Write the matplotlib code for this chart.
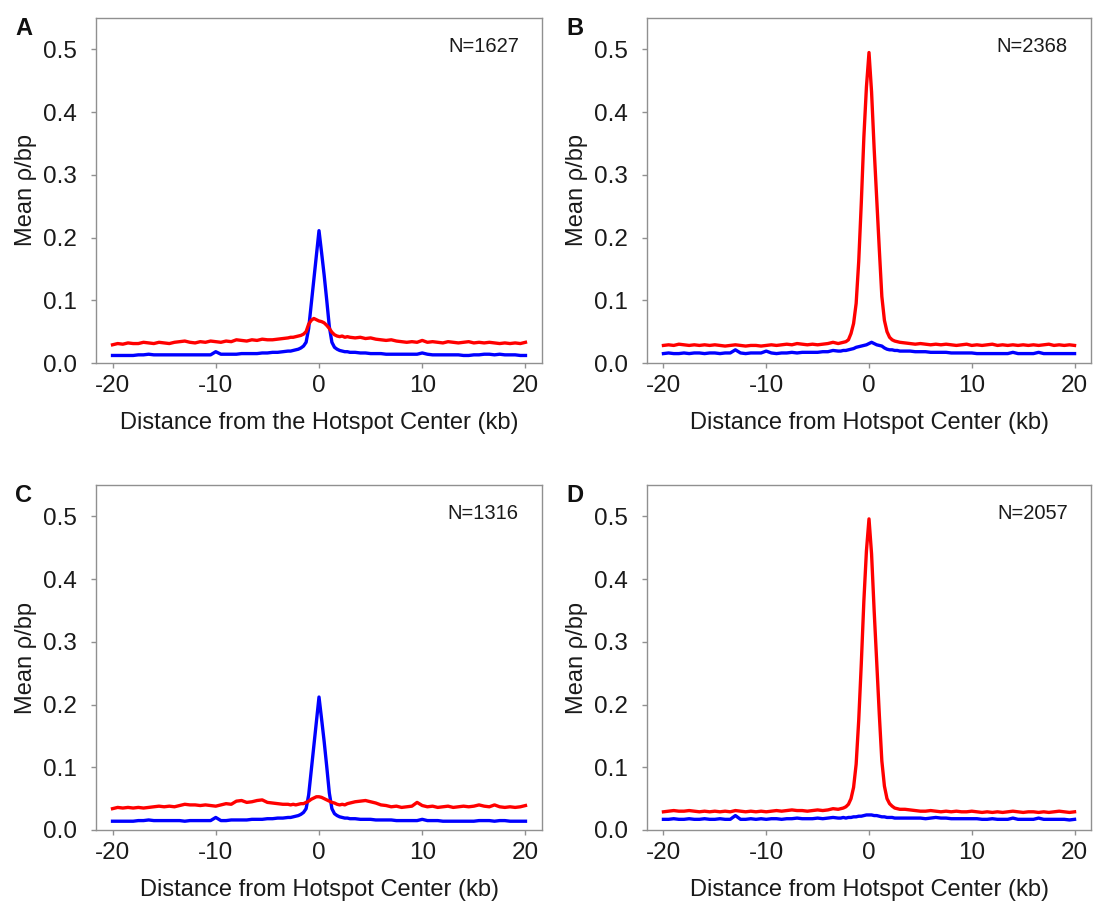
import numpy as np
import matplotlib
matplotlib.use("Agg")
import matplotlib.pyplot as plt

plt.rcParams['font.family'] = ['Liberation Sans', 'DejaVu Sans']
plt.rcParams['axes.unicode_minus'] = False

# distance from hotspot center (kb): 0.5 kb steps in the tails, 0.25 kb around the center
x_kb = np.concatenate([np.arange(-20, -3, 0.5), np.arange(-3, 3.01, 0.25), np.arange(3.5, 20.01, 0.5)])

# mean rho/bp, in units of 0.001
red_a = [29, 31, 30, 32, 31, 31, 33, 32, 31, 33, 32, 31, 33, 34, 35, 33, 32, 34, 33, 35, 34, 33, 35, 34, 37, 36, 35, 37, 36, 38, 37, 37, 38, 39,
         40, 41, 41, 42, 43, 44, 46, 50, 62, 68, 71, 69, 67, 66, 64, 60, 55, 49, 45, 43, 42, 43, 41, 42, 41,
         40, 41, 39, 40, 38, 37, 36, 37, 35, 34, 33, 34, 33, 36, 33, 34, 33, 32, 34, 33, 32, 33, 34, 32, 33, 32, 33, 32, 31, 32, 31, 32, 31, 33]
blue_a = [12, 12, 12, 12, 12, 13, 13, 14, 13, 13, 13, 13, 13, 13, 13, 13, 13, 13, 13, 13, 18, 14, 14, 14, 14, 15, 15, 15, 15, 16, 16, 17, 17, 18,
          19, 19, 20, 21, 22, 24, 27, 33, 55, 94, 133, 172, 211, 176, 140, 100, 58, 33, 25, 22, 20, 19, 18, 18, 17,
          17, 16, 16, 15, 15, 15, 14, 14, 14, 14, 14, 14, 14, 16, 14, 13, 13, 13, 13, 13, 13, 12, 12, 13, 13, 14, 14, 13, 14, 13, 13, 13, 12, 12]

red_b = [28, 29, 28, 30, 29, 28, 29, 28, 29, 28, 29, 28, 27, 28, 29, 28, 27, 28, 28, 27, 28, 29, 28, 29, 30, 29, 31, 30, 29, 30, 29, 30, 31, 33,
         31, 32, 33, 34, 37, 47, 63, 95, 162, 255, 360, 440, 495, 432, 342, 262, 182, 106, 68, 50, 41, 37, 35, 34, 33,
         32, 31, 30, 31, 30, 29, 30, 29, 30, 29, 28, 29, 30, 28, 29, 28, 29, 30, 28, 29, 28, 29, 28, 29, 28, 29, 28, 29, 30, 28, 29, 28, 29, 28]
blue_b = [15, 16, 15, 15, 16, 15, 16, 16, 15, 16, 16, 15, 16, 16, 21, 16, 15, 16, 16, 16, 19, 16, 15, 16, 16, 17, 16, 17, 17, 17, 17, 18, 18, 20,
          19, 19, 20, 20, 21, 22, 23, 25, 26, 27, 28, 29, 31, 33, 31, 29, 28, 27, 24, 22, 21, 21, 20, 20, 19,
          19, 19, 18, 18, 18, 17, 17, 17, 17, 16, 16, 16, 16, 16, 15, 15, 15, 15, 15, 15, 15, 17, 15, 15, 15, 15, 17, 15, 15, 15, 15, 15, 15, 15]

red_c = [34, 36, 35, 36, 35, 36, 35, 36, 37, 38, 37, 38, 37, 39, 41, 40, 40, 39, 40, 39, 38, 40, 42, 41, 46, 47, 44, 45, 47, 48, 44, 43, 42, 41,
         41, 40, 41, 40, 41, 42, 42, 44, 46, 49, 51, 53, 53, 52, 50, 48, 46, 44, 43, 41, 40, 41, 40, 42, 43,
         45, 46, 47, 45, 43, 40, 39, 37, 38, 36, 37, 38, 44, 39, 37, 38, 36, 37, 38, 36, 37, 38, 37, 38, 40, 38, 37, 40, 37, 36, 37, 36, 37, 39]
blue_c = [14, 14, 14, 14, 14, 15, 15, 16, 15, 15, 15, 15, 15, 15, 14, 15, 15, 15, 15, 15, 20, 15, 15, 16, 16, 16, 16, 17, 17, 17, 18, 18, 19, 19,
          20, 20, 21, 22, 23, 25, 28, 34, 56, 95, 134, 173, 212, 177, 141, 101, 59, 34, 26, 23, 21, 20, 19, 19, 18,
          18, 17, 17, 17, 16, 16, 16, 16, 15, 15, 15, 15, 15, 17, 15, 15, 15, 14, 14, 14, 14, 14, 14, 14, 15, 15, 15, 14, 15, 15, 14, 14, 14, 14]

red_d = [29, 30, 31, 30, 30, 31, 30, 29, 30, 29, 30, 29, 30, 29, 31, 30, 29, 30, 29, 30, 29, 30, 31, 30, 31, 32, 31, 31, 30, 31, 32, 31, 32, 34,
         33, 34, 35, 37, 41, 50, 68, 105, 175, 265, 365, 445, 496, 440, 350, 268, 185, 110, 70, 50, 42, 38, 35, 34, 33,
         33, 32, 31, 30, 30, 31, 30, 29, 30, 29, 30, 29, 29, 30, 29, 28, 29, 28, 29, 28, 29, 30, 29, 28, 29, 29, 28, 29, 28, 29, 30, 29, 28, 29]
blue_d = [17, 17, 18, 17, 17, 18, 17, 17, 18, 17, 17, 18, 17, 17, 23, 17, 17, 18, 17, 18, 17, 18, 18, 17, 18, 18, 19, 18, 18, 18, 19, 18, 19, 20,
          19, 19, 20, 19, 20, 20, 21, 21, 22, 22, 23, 24, 24, 24, 23, 23, 22, 21, 21, 20, 20, 20, 19, 19, 19,
          19, 19, 19, 19, 18, 19, 20, 19, 19, 18, 18, 18, 18, 18, 18, 17, 17, 18, 17, 17, 17, 19, 17, 17, 17, 17, 19, 17, 17, 17, 17, 17, 16, 17]

letters = ["A", "B", "C", "D"]
n_labels = ["N=1627", "N=2368", "N=1316", "N=2057"]
x_labels = ["Distance from the Hotspot Center (kb)", "Distance from Hotspot Center (kb)",
            "Distance from Hotspot Center (kb)", "Distance from Hotspot Center (kb)"]
reds = [red_a, red_b, red_c, red_d]
blues = [blue_a, blue_b, blue_c, blue_d]

W, H = 1094, 902
fig = plt.figure(figsize=(W / 100, H / 100), dpi=100)

# axes boxes in pixels: left, top, right, bottom
boxes = [(96, 18, 542, 363), (647, 18, 1091, 363), (96, 485, 542, 830), (647, 485, 1091, 830)]
frame_col = "#909090"

for i in range(4):
    l, t, r, b = boxes[i]
    ax = fig.add_axes([l / W, 1 - b / H, (r - l) / W, (b - t) / H])

    ax.plot(x_kb, np.array(blues[i]) / 1000, color="#0000ff", lw=2.4, solid_joinstyle="round")
    ax.plot(x_kb, np.array(reds[i]) / 1000, color="#ff0000", lw=2.4, solid_joinstyle="round")

    ax.set_xlim(-21.6, 21.6)
    ax.set_ylim(0, 0.55)
    ax.set_xticks([-20, -10, 0, 10, 20])
    ax.set_yticks([0, 0.1, 0.2, 0.3, 0.4, 0.5])
    ax.set_yticklabels(["0.0", "0.1", "0.2", "0.3", "0.4", "0.5"])
    for s in ax.spines.values():
        s.set_color(frame_col)
        s.set_linewidth(1)
    ax.tick_params(axis="both", direction="out", length=3.6, width=1, color=frame_col,
                   labelcolor="#1a1a1a", labelsize=17.5)
    ax.tick_params(axis="y", pad=10)
    ax.tick_params(axis="x", pad=5)

    ax.set_xlabel(x_labels[i], fontsize=17, color="#1a1a1a")
    ax.xaxis.set_label_coords(0.5, -0.142)
    ax.set_ylabel("Mean ρ/bp", fontsize=17, color="#1a1a1a")
    ax.yaxis.set_label_coords(-0.132, 0.5)

    ax.text(0.948, 0.917, n_labels[i], transform=ax.transAxes, ha="right", va="center",
            fontsize=14.5, color="#1a1a1a")

    lx = 15 if i % 2 == 0 else 566
    fig.text(lx / W, 1 - (t - 1) / H, letters[i], ha="left", va="top",
             fontsize=17, fontweight="bold", color="#111111")

fig.savefig("out.png", dpi=100)
